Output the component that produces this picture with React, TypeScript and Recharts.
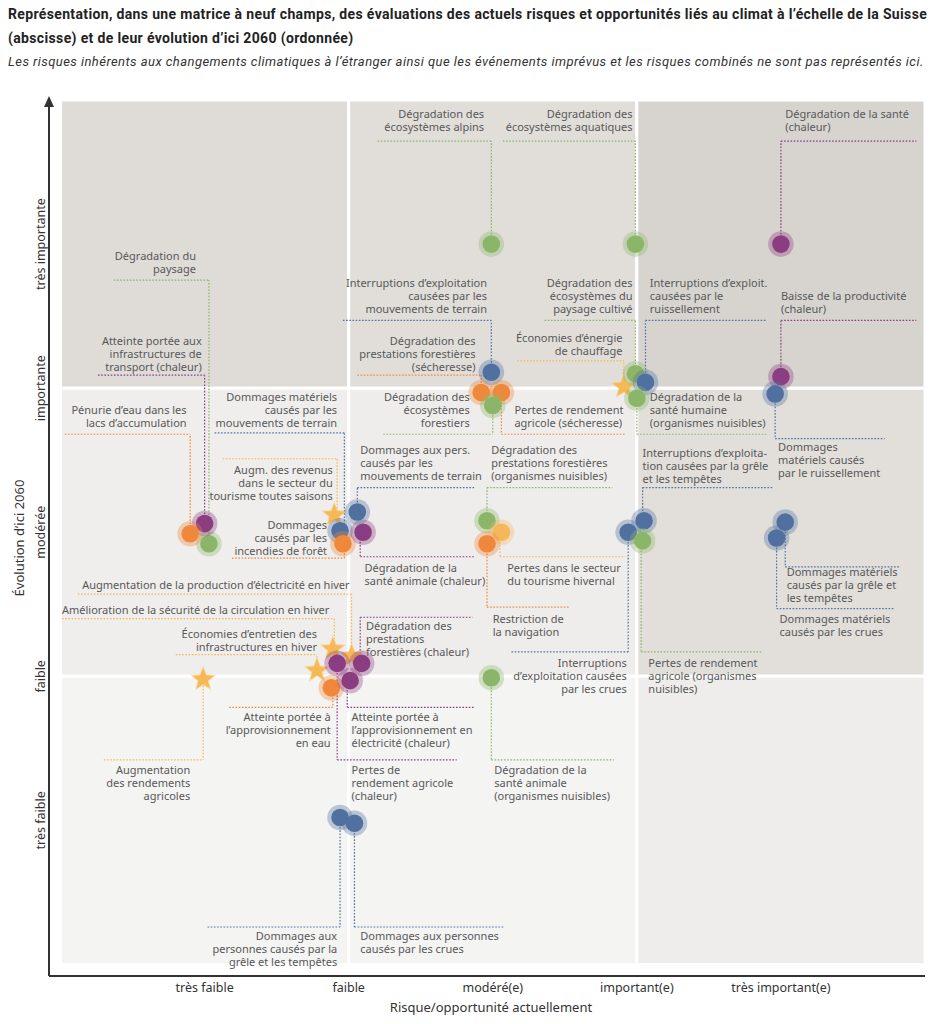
import React from 'react';
import { ScatterChart, Scatter, XAxis, YAxis, ReferenceArea, ReferenceLine, ReferenceDot } from 'recharts';

// axis categories
const X_TICKS = ['très faible', 'faible', 'modéré(e)', 'important(e)', 'très important(e)'];
const Y_TICKS = ['très faible', 'faible', 'modérée', 'importante', 'très importante'];

// risk / opportunity names (one entry per item, split in lines)
const NAMES: string[][] = [
  ['Dégradation des', 'écosystèmes alpins'],
  ['Dégradation des', 'écosystèmes aquatiques'],
  ['Dégradation de la santé', '(chaleur)'],
  ['Dégradation du', 'paysage'],
  ['Atteinte portée aux', 'infrastructures de', 'transport (chaleur)'],
  ['Pénurie d’eau dans les', 'lacs d’accumulation'],
  ['Interruptions d’exploitation', 'causées par les', 'mouvements de terrain'],
  ['Dégradation des', 'prestations forestières', '(sécheresse)'],
  ['Pertes de rendement', 'agricole (sécheresse)'],
  ['Dégradation des', 'écosystèmes', 'forestiers'],
  ['Dégradation des', 'écosystèmes du', 'paysage cultivé'],
  ['Économies d’énergie', 'de chauffage'],
  ['Interruptions d’exploit.', 'causées par le', 'ruissellement'],
  ['Dégradation de la', 'santé humaine', '(organismes nuisibles)'],
  ['Baisse de la productivité', '(chaleur)'],
  ['Dommages', 'matériels causés', 'par le ruissellement'],
  ['Dommages matériels', 'causés par les', 'mouvements de terrain'],
  ['Augm. des revenus', 'dans le secteur du', 'tourisme toutes saisons'],
  ['Dommages', 'causés par les', 'incendies de forêt'],
  ['Dégradation de la', 'santé animale (chaleur)'],
  ['Dégradation des', 'prestations forestières', '(organismes nuisibles)'],
  ['Pertes dans le secteur', 'du tourisme hivernal'],
  ['Restriction de', 'la navigation'],
  ['Interruptions', 'd’exploitation causées', 'par les crues'],
  ['Interruptions d’exploita-', 'tion causées par la grêle', 'et les tempêtes'],
  ['Pertes de rendement', 'agricole (organismes', 'nuisibles)'],
  ['Dommages matériels', 'causés par la grêle et', 'les tempêtes'],
  ['Dommages matériels', 'causés par les crues'],
  ['Augmentation de la production d’électricité en hiver'],
  ['Amélioration de la sécurité de la circulation en hiver'],
  ['Économies d’entretien des', 'infrastructures en hiver'],
  ['Augmentation', 'des rendements', 'agricoles'],
  ['Dégradation des', 'prestations', 'forestières (chaleur)'],
  ['Atteinte portée à', 'l’approvisionnement', 'en eau'],
  ['Atteinte portée à', 'l’approvisionnement en', 'électricité (chaleur)'],
  ['Pertes de', 'rendement agricole', '(chaleur)'],
  ['Dégradation de la', 'santé animale', '(organismes nuisibles)'],
  ['Dommages aux', 'personnes causés par la', 'grêle et les tempêtes'],
  ['Dommages aux personnes', 'causés par les crues'],
  ['Dommages aux pers.', 'causés par les', 'mouvements de terrain'],
];

// current risk (x) and evolution by 2060 (y), 1 = très faible ... 5 = très important
const RISK_NOW = [
  2.99, 3.99, 5.0, 1.03, 1.0, 0.9, 2.99, 2.92, 3.06, 3.0,
  3.99, 3.91, 4.06, 4.0, 5.0, 4.96, 1.94, 1.9, 1.96, 2.1,
  2.96, 3.06, 2.96, 3.94, 4.05, 4.04, 5.03, 4.97, 2.02, 1.89,
  1.78, 0.99, 2.09, 1.88, 2.01, 1.92, 2.99, 1.94, 2.04, 2.06,
];
const CHANGE_2060 = [
  5.0, 5.0, 5.0, 2.92, 3.06, 2.99, 4.11, 3.97, 3.97, 3.88,
  4.1, 4.01, 4.04, 3.93, 4.08, 3.96, 3.01, 3.12, 2.92, 3.0,
  3.08, 3.0, 2.92, 3.0, 3.08, 2.94, 3.07, 2.96, 2.14, 2.19,
  2.04, 1.98, 2.09, 1.92, 1.97, 2.09, 1.99, 1.02, 0.98, 3.14,
];
// group of each item
const GROUP = [
  'vert', 'vert', 'violet', 'vert', 'violet', 'orange', 'bleu', 'orange', 'orange', 'vert',
  'vert', 'etoile', 'bleu', 'vert', 'violet', 'bleu', 'bleu', 'etoile', 'orange', 'violet',
  'vert', 'jaune', 'orange', 'bleu', 'bleu', 'vert', 'bleu', 'bleu', 'etoile', 'etoile',
  'etoile', 'etoile', 'violet', 'orange', 'violet', 'violet', 'vert', 'bleu', 'bleu', 'bleu',
];

// label placement (in axis units): text anchor point, leader line level and extent
const LABEL_LAYOUT = [
  { tx: 2.94, ty: 5.9, a: 'end', ly: 5.715, h1: 2.2, h2: 2.99 },
  { tx: 3.97, ty: 5.9, a: 'end', ly: 5.715, h1: 3.07, h2: 3.99 },
  { tx: 5.03, ty: 5.9, a: 'start', ly: 5.715, h1: 5.0, h2: 5.94 },
  { tx: 0.94, ty: 4.92, a: 'end', ly: 4.75, h1: 0.37, h2: 1.03 },
  { tx: 0.98, ty: 4.33, a: 'end', ly: 4.09, h1: 0.26, h2: 1.0 },
  { tx: 0.875, ty: 3.85, a: 'end', ly: 3.68, h1: 0.03, h2: 0.9 },
  { tx: 2.96, ty: 4.73, a: 'end', ly: 4.47, h1: 1.96, h2: 2.99 },
  { tx: 2.88, ty: 4.33, a: 'end', ly: 4.09, h1: 2.06, h2: 2.92 },
  { tx: 3.15, ty: 3.85, a: 'start', ly: 3.68, h1: 3.06, h2: 3.92 },
  { tx: 2.84, ty: 3.94, a: 'end', ly: 3.68, h1: 2.24, h2: 3.0 },
  { tx: 3.97, ty: 4.73, a: 'end', ly: 4.47, h1: 3.36, h2: 3.99 },
  { tx: 3.9, ty: 4.35, a: 'end', ly: 4.19, h1: 3.17, h2: 3.91 },
  { tx: 4.09, ty: 4.73, a: 'start', ly: 4.47, h1: 4.06, h2: 4.9 },
  { tx: 4.09, ty: 3.94, a: 'start', ly: 3.68, h1: 4.0, h2: 4.9 },
  { tx: 5.0, ty: 4.64, a: 'start', ly: 4.47, h1: 5.0, h2: 5.94 },
  { tx: 4.98, ty: 3.59, a: 'start', ly: 3.65, h1: 4.96, h2: 5.72 },
  { tx: 1.92, ty: 3.94, a: 'end', ly: 3.69, h1: 1.07, h2: 1.97, vx: 1.97 },
  { tx: 1.89, ty: 3.43, a: 'end', ly: 3.51, h1: 1.125, h2: 1.92, vx: 1.92 },
  { tx: 1.85, ty: 3.05, a: 'end', ly: 2.82, h1: 1.19, h2: 1.97, vx: 1.97 },
  { tx: 2.11, ty: 2.75, a: 'start', ly: 2.83, h1: 2.08, h2: 2.88, vx: 2.08 },
  { tx: 2.99, ty: 3.57, a: 'start', ly: 3.31, h1: 2.96, h2: 3.83 },
  { tx: 3.1, ty: 2.75, a: 'start', ly: 2.83, h1: 3.05, h2: 3.92, vx: 3.05 },
  { tx: 3.0, ty: 2.4, a: 'start', ly: 2.48, h1: 2.96, h2: 3.53 },
  { tx: 3.93, ty: 2.09, a: 'end', ly: 2.17, h1: 3.13, h2: 3.94 },
  { tx: 4.04, ty: 3.55, a: 'start', ly: 3.31, h1: 4.04, h2: 4.94, vx: 4.04 },
  { tx: 4.08, ty: 2.09, a: 'start', ly: 2.17, h1: 4.03, h2: 4.87, vx: 4.03 },
  { tx: 5.04, ty: 2.72, a: 'start', ly: 2.76, h1: 5.03, h2: 5.83 },
  { tx: 4.99, ty: 2.4, a: 'start', ly: 2.47, h1: 4.97, h2: 5.79 },
  { tx: 0.15, ty: 2.63, a: 'start', ly: 2.57, h1: 0.12, h2: 2.02 },
  { tx: 0.01, ty: 2.46, a: 'start', ly: 2.4, h1: 0.01, h2: 1.9, vx: 1.9 },
  { tx: 1.78, ty: 2.29, a: 'end', ly: 2.15, h1: 0.8, h2: 1.78 },
  { tx: 0.9, ty: 1.35, a: 'end', ly: 1.42, h1: 0.3, h2: 0.99 },
  { tx: 2.12, ty: 2.35, a: 'start', ly: 2.41, h1: 2.08, h2: 2.86, vx: 2.08 },
  { tx: 1.875, ty: 1.72, a: 'end', ly: 1.785, h1: 1.17, h2: 1.89, vx: 1.89 },
  { tx: 2.02, ty: 1.72, a: 'start', ly: 1.785, h1: 1.99, h2: 2.875, vx: 1.99 },
  { tx: 2.02, ty: 1.35, a: 'start', ly: 1.42, h1: 1.92, h2: 2.75 },
  { tx: 3.01, ty: 1.35, a: 'start', ly: 1.42, h1: 2.99, h2: 3.84 },
  { tx: 1.92, ty: 0.2, a: 'end', ly: 0.26, h1: 1.02, h2: 1.94 },
  { tx: 2.08, ty: 0.2, a: 'start', ly: 0.26, h1: 2.04, h2: 3.08 },
  { tx: 2.08, ty: 3.57, a: 'start', ly: 3.31, h1: 2.06, h2: 2.88 },
];

const COLORS: Record<string, string> = {
  vert: '#8bb66a',
  orange: '#ef883a',
  violet: '#8b3d81',
  bleu: '#50709f',
  jaune: '#f5b75c',
  etoile: '#f6b955',
};

const CELLS = [
  { x1: 0, x2: 2, y1: 4, y2: 6, fill: '#dfdcd8' },
  { x1: 2, x2: 4, y1: 4, y2: 6, fill: '#e1deda' },
  { x1: 4, x2: 6, y1: 4, y2: 6, fill: '#d7d4d0' },
  { x1: 0, x2: 2, y1: 2, y2: 4, fill: '#efeeec' },
  { x1: 2, x2: 4, y1: 2, y2: 4, fill: '#efedeb' },
  { x1: 4, x2: 6, y1: 2, y2: 4, fill: '#e2dfdb' },
  { x1: 0, x2: 2, y1: 0, y2: 2, fill: '#f4f4f3' },
  { x1: 2, x2: 4, y1: 0, y2: 2, fill: '#f4f4f3' },
  { x1: 4, x2: 6, y1: 0, y2: 2, fill: '#eeedeb' },
];

const FONT = "'Noto Sans', sans-serif";

const items = NAMES.map((lines, i) => ({
  lines,
  x: RISK_NOW[i],
  y: CHANGE_2060[i],
  kind: GROUP[i],
  layout: LABEL_LAYOUT[i],
}));

const stars = items.filter(d => d.kind === 'etoile');
const circles = items.filter(d => d.kind !== 'etoile');
const labelData = items.map(d => ({ x: d.layout.tx, y: d.layout.ty, lines: d.lines, anchor: d.layout.a }));

const starPath = (cx: number, cy: number, R: number, r: number) => {
  let d = '';
  for (let i = 0; i < 10; i++) {
    const ang = -Math.PI / 2 + (i * Math.PI) / 5;
    const rad = i % 2 === 0 ? R : r;
    d += (i ? 'L' : 'M') + (cx + rad * Math.cos(ang)).toFixed(2) + ',' + (cy + rad * Math.sin(ang)).toFixed(2);
  }
  return d + 'Z';
};

const Marker = (props: any) => {
  const { cx, cy, payload } = props;
  const c = COLORS[payload.kind];
  if (payload.kind === 'etoile') {
    return (
      <g>
        <path d={starPath(cx, cy, 14, 6.2)} fill={c} fillOpacity={0.35} />
        <path d={starPath(cx, cy, 11.5, 5)} fill={c} />
      </g>
    );
  }
  return (
    <g>
      <circle cx={cx} cy={cy} r={12.8} fill={c} fillOpacity={0.35} />
      <circle cx={cx} cy={cy} r={8.8} fill={c} />
    </g>
  );
};

const LabelText = (props: any) => {
  const { cx, cy, payload } = props;
  return (
    <text textAnchor={payload.anchor} fontSize={11} fill="#585858" fontFamily={FONT}>
      {payload.lines.map((l: string, i: number) => (
        <tspan key={i} x={cx} y={cy + i * 13 + 3.9}>{l}</tspan>
      ))}
    </text>
  );
};

const YTick = (props: any) => {
  const { x, y, payload } = props;
  return (
    <text
      x={x}
      y={y}
      transform={`rotate(-90, ${x}, ${y})`}
      textAnchor="middle"
      dy="0.35em"
      fontSize={12.5}
      fill="#333"
      fontFamily={FONT}
    >
      {Y_TICKS[payload.value - 1]}
    </text>
  );
};

const YLabel = (props: any) => {
  const { viewBox } = props;
  const cx = viewBox.x + 19;
  const cy = viewBox.y + viewBox.height / 2;
  return (
    <text x={cx} y={cy} transform={`rotate(-90, ${cx}, ${cy})`} textAnchor="middle" dy="0.35em" fontSize={13} fill="#333" fontFamily={FONT}>
      Évolution d’ici 2060
    </text>
  );
};

const XLabel = (props: any) => {
  const { viewBox } = props;
  return (
    <text x={viewBox.x + viewBox.width / 2 + 4} y={viewBox.y + 31} textAnchor="middle" dy="0.35em" fontSize={13} fill="#333" fontFamily={FONT}>
      Risque/opportunité actuellement
    </text>
  );
};

const Arrow = (props: any) => {
  const { cx, cy } = props;
  return <path d={`M${cx - 5},${cy + 7} L${cx},${cy - 4} L${cx + 5},${cy + 7} Z`} fill="#333" />;
};

const App: React.FC = () => {
  return (
    <div style={{ position: 'relative', width: 952, height: 1024, margin: -8, background: '#fff', fontFamily: "'Roboto', sans-serif" }}>
      <div style={{ position: 'absolute', left: 8, top: 2, width: 944, fontSize: 14, letterSpacing: '0.35px', fontWeight: 700, lineHeight: '24px', color: '#222', whiteSpace: 'nowrap' }}>
        Représentation, dans une matrice à neuf champs, des évaluations des actuels risques et opportunités liés au climat à l’échelle de la Suisse
        <br />
        (abscisse) et de leur évolution d’ici 2060 (ordonnée)
      </div>
      <div style={{ position: 'absolute', left: 8, top: 50, width: 944, fontSize: 13, letterSpacing: '0.45px', fontStyle: 'italic', lineHeight: '24px', color: '#333', whiteSpace: 'nowrap' }}>
        Les risques inhérents aux changements climatiques à l’étranger ainsi que les événements imprévus et les risques combinés ne sont pas représentés ici.
      </div>
      <div style={{ position: 'absolute', left: 0, top: 0 }}>
        <ScatterChart width={952} height={1024} margin={{ top: 100, right: 27, bottom: 0, left: 0 }}>
          {CELLS.map((c, i) => (
            <ReferenceArea key={`cell-${i}`} x1={c.x1} x2={c.x2} y1={c.y1} y2={c.y2} fill={c.fill} fillOpacity={1} stroke="#ffffff" strokeWidth={3} />
          ))}
          <XAxis
            type="number"
            dataKey="x"
            domain={[-0.08, 6]}
            ticks={[1, 2, 3, 4, 5]}
            allowDataOverflow
            height={48}
            tickLine={false}
            tickMargin={1}
            axisLine={{ stroke: '#333', strokeWidth: 2 }}
            tickFormatter={(v: number) => X_TICKS[v - 1]}
            tick={{ fontSize: 12.5, fill: '#333', fontFamily: FONT }}
            label={<XLabel />}
          />
          <YAxis
            type="number"
            dataKey="y"
            domain={[-0.08, 6]}
            ticks={[1, 2, 3, 4, 5]}
            allowDataOverflow
            width={49}
            tickLine={false}
            tickSize={0}
            tickMargin={8}
            axisLine={{ stroke: '#333', strokeWidth: 2 }}
            tick={<YTick />}
            label={<YLabel />}
          />
          <ReferenceDot x={-0.08} y={6} r={0} ifOverflow="visible" shape={<Arrow />} />
          {items.map((d, i) => {
            const vx = d.layout.vx ?? d.x;
            const c = COLORS[d.kind];
            return (
              <React.Fragment key={`lead-${i}`}>
                <ReferenceLine
                  segment={[{ x: vx, y: d.y }, { x: vx, y: d.layout.ly }]}
                  stroke={c}
                  strokeWidth={1.2}
                  strokeDasharray="1.6 1.6"
                  ifOverflow="visible"
                />
                <ReferenceLine
                  segment={[{ x: d.layout.h1, y: d.layout.ly }, { x: d.layout.h2, y: d.layout.ly }]}
                  stroke={c}
                  strokeWidth={1.2}
                  strokeDasharray="1.6 1.6"
                  ifOverflow="visible"
                />
              </React.Fragment>
            );
          })}
          <Scatter name="labels" data={labelData} shape={<LabelText />} isAnimationActive={false} />
          <Scatter name="Opportunités" data={stars} shape={<Marker />} isAnimationActive={false} />
          <Scatter name="Risques" data={circles} shape={<Marker />} isAnimationActive={false} />
        </ScatterChart>
      </div>
    </div>
  );
};

export default App;
